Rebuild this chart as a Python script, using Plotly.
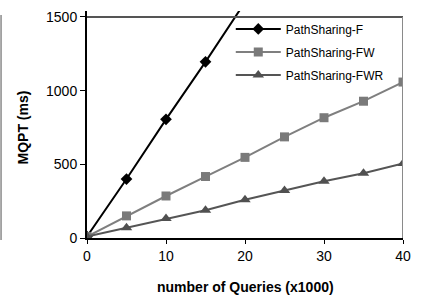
import plotly.graph_objects as go

queries = [0, 5, 10, 15, 20, 25, 30, 35, 40]
f_x = [0, 5, 10, 15, 20]
f_vals = [10, 400, 805, 1195, 1600]
fw_vals = [10, 150, 285, 417, 547, 686, 816, 928, 1058]
fwr_vals = [10, 69, 132, 188, 260, 323, 385, 439, 506]
y_ticks = [0, 500, 1000, 1500]
x_ticks = [0, 10, 20, 30, 40]

FONT = "Liberation Sans, Arial, sans-serif"

fig = go.Figure()
fig.add_trace(go.Scatter(x=f_x, y=f_vals, name="PathSharing-F", mode="lines+markers",
                         legendgroup="a",
                         line=dict(color="#000000", width=2),
                         marker=dict(symbol="diamond", size=9, color="#000000")))
fig.add_trace(go.Scatter(x=queries, y=fw_vals, name="PathSharing-FW", mode="lines+markers",
                         legendgroup="b",
                         line=dict(color="#7f7f7f", width=2),
                         marker=dict(symbol="square", size=9, color="#7a7a7a")))
fig.add_trace(go.Scatter(x=queries, y=fwr_vals, name="PathSharing-FWR", mode="lines+markers",
                         legendgroup="c",
                         line=dict(color="#555555", width=2),
                         marker=dict(symbol="triangle-up", size=10, color="#505050")))

fig.update_layout(
    width=424, height=299,
    margin=dict(l=87, r=21, t=9, b=61),
    paper_bgcolor="white", plot_bgcolor="white",
    font=dict(family=FONT, size=14, color="#000000"),
    showlegend=True,
    legend=dict(x=0.455, y=0.985, xanchor="left", yanchor="top",
                bgcolor="rgba(0,0,0,0)", font=dict(size=12, family=FONT),
                tracegroupgap=4, traceorder="grouped", itemwidth=45),
    xaxis=dict(range=[0, 40], tickvals=x_ticks, ticks="outside", ticklen=4,
               tickcolor="#000", showline=True, linecolor="#000", linewidth=2,
               showgrid=False, zeroline=False, fixedrange=True),
    yaxis=dict(range=[0, 1540], tickvals=y_ticks, ticks="outside", ticklen=5,
               tickcolor="#000", showline=True, linecolor="#000", linewidth=2,
               showgrid=False, zeroline=False, fixedrange=True),
    shapes=[
        dict(type="line", xref="x", yref="y", x0=0, x1=40, y0=1500, y1=1500,
             line=dict(color="#555555", width=2)),
        dict(type="line", xref="x", yref="y", x0=40, x1=40, y0=0, y1=1500,
             line=dict(color="#8a8a8a", width=2)),
        dict(type="line", xref="paper", yref="paper", x0=-0.272, x1=-0.272,
             y0=-0.009, y1=0.9825, line=dict(color="#8a8a8a", width=1.5)),
    ],
    annotations=[
        dict(text="<b>number of Queries (x1000)</b>", xref="paper", yref="paper",
             x=0.5, y=0, yshift=-49, xanchor="center", yanchor="middle",
             showarrow=False, font=dict(size=14, family=FONT)),
        dict(text="<b>MQPT (ms)</b>", xref="paper", yref="paper",
             x=0, xshift=-65, y=0.5, yshift=-3, xanchor="center", yanchor="middle",
             textangle=-90, showarrow=False, font=dict(size=14, family=FONT)),
    ],
)

fig.write_html("out.html", config={"displayModeBar": False},
               post_script="document.body.style.margin='0';document.body.style.padding='0';")
